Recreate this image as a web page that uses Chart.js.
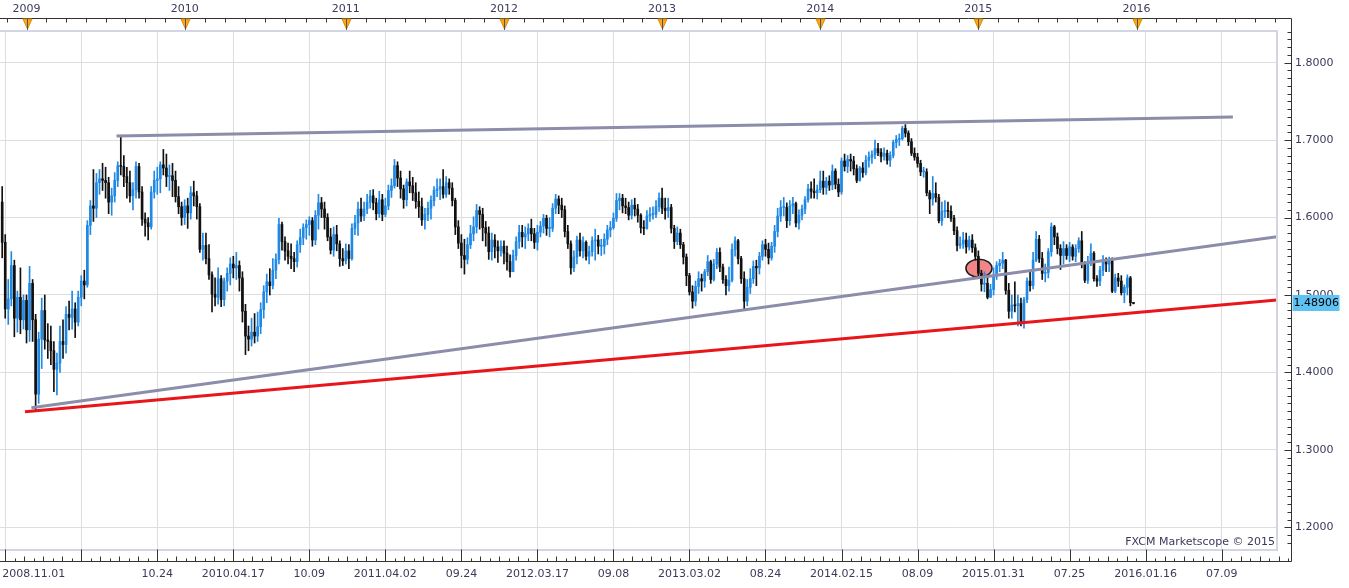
<!DOCTYPE html>
<html>
<head>
<meta charset="utf-8">
<script src="https://cdn.jsdelivr.net/npm/chart.js@4.4.0/dist/chart.umd.min.js"></script>
<style>
  html, body { margin: 0; padding: 0; background: #fff; }
  #wrap { width: 1349px; height: 588px; position: relative; }
</style>
</head>
<body>
<div id="wrap"><canvas id="chart"></canvas></div>
<script>
// GBP/USD weekly candles, week 0 = 2008.11.01
const firstOpen = 1.620;
const closes = [
  1.568,1.482,1.495,1.538,1.470,1.497,1.468,1.493,1.455,1.515,
  1.468,1.372,1.443,1.480,1.442,1.440,1.428,1.404,1.412,1.440,
  1.436,1.475,1.471,1.482,1.465,1.497,1.518,1.513,1.590,1.615,
  1.612,1.645,1.650,1.648,1.645,1.620,1.628,1.648,1.667,1.666,
  1.653,1.645,1.628,1.636,1.666,1.633,1.598,1.593,1.588,1.633,
  1.648,1.650,1.668,1.664,1.653,1.654,1.648,1.627,1.614,1.600,
  1.615,1.606,1.632,1.628,1.614,1.559,1.564,1.547,1.526,1.501,
  1.497,1.521,1.494,1.518,1.528,1.540,1.535,1.538,1.522,1.479,
  1.447,1.443,1.452,1.447,1.459,1.481,1.504,1.517,1.512,1.532,
  1.546,1.591,1.569,1.557,1.550,1.547,1.543,1.565,1.574,1.587,
  1.591,1.596,1.571,1.603,1.619,1.611,1.600,1.575,1.558,1.578,
  1.566,1.547,1.544,1.557,1.547,1.586,1.593,1.611,1.602,1.611,
  1.620,1.628,1.619,1.605,1.623,1.604,1.615,1.635,1.641,1.667,
  1.651,1.637,1.623,1.646,1.641,1.632,1.621,1.614,1.597,1.604,
  1.612,1.622,1.635,1.637,1.640,1.630,1.645,1.638,1.622,1.588,
  1.567,1.551,1.546,1.565,1.579,1.588,1.609,1.604,1.587,1.580,
  1.556,1.571,1.562,1.557,1.563,1.554,1.543,1.530,1.551,1.569,
  1.581,1.575,1.579,1.586,1.579,1.568,1.581,1.589,1.599,1.586,
  1.586,1.612,1.624,1.616,1.610,1.582,1.566,1.535,1.549,1.571,
  1.557,1.568,1.550,1.556,1.570,1.571,1.563,1.563,1.572,1.584,
  1.587,1.599,1.622,1.625,1.615,1.613,1.603,1.616,1.611,1.603,
  1.587,1.586,1.602,1.604,1.604,1.614,1.625,1.612,1.609,1.613,
  1.586,1.569,1.580,1.565,1.549,1.525,1.504,1.492,1.511,1.521,
  1.518,1.530,1.543,1.520,1.540,1.555,1.536,1.520,1.512,1.519,
  1.559,1.570,1.547,1.521,1.492,1.510,1.521,1.537,1.535,1.550,
  1.565,1.559,1.548,1.563,1.582,1.602,1.613,1.613,1.596,1.615,
  1.618,1.593,1.603,1.611,1.623,1.637,1.634,1.632,1.636,1.647,
  1.639,1.647,1.642,1.660,1.643,1.633,1.673,1.666,1.675,1.673,
  1.663,1.648,1.664,1.658,1.674,1.678,1.681,1.689,1.684,1.679,
  1.683,1.674,1.680,1.697,1.701,1.702,1.715,1.709,1.698,1.683,
  1.678,1.670,1.659,1.659,1.632,1.624,1.631,1.626,1.596,1.608,
  1.609,1.608,1.599,1.583,1.564,1.566,1.571,1.562,1.571,1.561,
  1.550,1.528,1.514,1.515,1.497,1.507,1.524,1.538,1.541,1.545,
  1.506,1.479,1.487,1.486,1.489,1.463,1.494,1.518,1.512,1.545,
  1.572,1.547,1.528,1.529,1.556,1.588,1.575,1.560,1.551,1.560,
  1.551,1.562,1.550,1.560,1.570,1.540,1.519,1.543,1.554,1.521,
  1.518,1.532,1.546,1.540,1.544,1.505,1.522,1.518,1.503,1.510,
  1.522,1.490,1.48906
];
const highs = [
  1.640,1.578,1.520,1.556,1.545,1.505,1.535,1.500,1.500,1.537,
  1.520,1.475,1.452,1.496,1.500,1.463,1.460,1.440,1.425,1.460,
  1.468,1.485,1.492,1.505,1.490,1.505,1.525,1.532,1.596,1.622,
  1.662,1.657,1.662,1.670,1.665,1.652,1.638,1.658,1.672,1.705,
  1.680,1.665,1.660,1.645,1.672,1.670,1.640,1.606,1.600,1.640,
  1.660,1.665,1.672,1.688,1.682,1.668,1.670,1.660,1.640,1.620,
  1.623,1.625,1.640,1.647,1.634,1.618,1.580,1.580,1.565,1.530,
  1.522,1.535,1.525,1.522,1.535,1.548,1.550,1.555,1.544,1.530,
  1.488,1.460,1.470,1.476,1.478,1.490,1.512,1.527,1.534,1.547,
  1.553,1.599,1.594,1.575,1.567,1.566,1.555,1.570,1.585,1.592,
  1.597,1.601,1.600,1.609,1.630,1.626,1.620,1.605,1.586,1.588,
  1.590,1.570,1.560,1.566,1.565,1.592,1.603,1.620,1.625,1.620,
  1.630,1.635,1.636,1.625,1.634,1.630,1.625,1.642,1.650,1.675,
  1.672,1.660,1.642,1.650,1.660,1.652,1.645,1.633,1.625,1.612,
  1.620,1.628,1.640,1.650,1.650,1.662,1.653,1.650,1.645,1.625,
  1.596,1.578,1.572,1.574,1.590,1.601,1.617,1.614,1.612,1.595,
  1.588,1.580,1.578,1.570,1.570,1.570,1.563,1.552,1.558,1.575,
  1.590,1.590,1.588,1.592,1.598,1.586,1.590,1.595,1.604,1.603,
  1.600,1.618,1.630,1.628,1.625,1.615,1.590,1.570,1.557,1.576,
  1.580,1.575,1.570,1.563,1.575,1.585,1.577,1.572,1.579,1.590,
  1.595,1.606,1.631,1.631,1.630,1.625,1.620,1.623,1.625,1.617,
  1.605,1.596,1.609,1.613,1.614,1.622,1.632,1.638,1.625,1.625,
  1.617,1.590,1.588,1.585,1.568,1.553,1.528,1.512,1.518,1.530,
  1.527,1.533,1.551,1.545,1.546,1.560,1.561,1.540,1.525,1.536,
  1.566,1.575,1.572,1.550,1.530,1.520,1.534,1.544,1.545,1.555,
  1.570,1.572,1.567,1.568,1.590,1.612,1.622,1.626,1.619,1.622,
  1.626,1.620,1.610,1.616,1.627,1.643,1.646,1.650,1.642,1.660,
  1.660,1.652,1.654,1.668,1.663,1.650,1.677,1.682,1.680,1.682,
  1.679,1.668,1.666,1.671,1.680,1.685,1.686,1.700,1.696,1.689,
  1.690,1.687,1.685,1.700,1.706,1.708,1.718,1.720,1.712,1.702,
  1.690,1.683,1.674,1.665,1.663,1.635,1.653,1.645,1.630,1.620,
  1.622,1.620,1.615,1.603,1.588,1.575,1.581,1.580,1.576,1.578,
  1.566,1.557,1.532,1.530,1.523,1.514,1.535,1.543,1.546,1.555,
  1.546,1.515,1.500,1.517,1.500,1.496,1.497,1.522,1.530,1.555,
  1.582,1.577,1.555,1.540,1.560,1.593,1.590,1.580,1.565,1.569,
  1.565,1.568,1.565,1.565,1.574,1.582,1.543,1.550,1.566,1.556,
  1.525,1.537,1.551,1.548,1.549,1.548,1.527,1.528,1.525,1.513,
  1.526,1.524,1.4905
];
const lows = [
  1.548,1.470,1.462,1.486,1.446,1.452,1.450,1.456,1.438,1.440,
  1.440,1.351,1.360,1.405,1.430,1.418,1.410,1.375,1.371,1.400,
  1.418,1.425,1.455,1.456,1.445,1.460,1.486,1.495,1.510,1.578,
  1.595,1.600,1.630,1.635,1.625,1.605,1.603,1.620,1.640,1.655,
  1.640,1.625,1.620,1.610,1.625,1.625,1.590,1.576,1.571,1.585,
  1.625,1.630,1.632,1.655,1.640,1.635,1.627,1.620,1.605,1.590,
  1.591,1.586,1.598,1.615,1.598,1.555,1.545,1.540,1.520,1.478,
  1.486,1.488,1.485,1.486,1.505,1.513,1.522,1.520,1.505,1.465,
  1.423,1.428,1.434,1.438,1.440,1.450,1.470,1.490,1.500,1.508,
  1.521,1.540,1.558,1.545,1.540,1.534,1.530,1.536,1.555,1.565,
  1.572,1.577,1.563,1.565,1.585,1.600,1.585,1.570,1.553,1.550,
  1.557,1.537,1.538,1.540,1.534,1.545,1.578,1.577,1.595,1.596,
  1.605,1.612,1.610,1.597,1.600,1.596,1.601,1.610,1.626,1.638,
  1.640,1.625,1.612,1.615,1.632,1.622,1.612,1.600,1.590,1.585,
  1.596,1.598,1.615,1.627,1.623,1.625,1.626,1.630,1.615,1.578,
  1.560,1.535,1.527,1.540,1.560,1.570,1.580,1.585,1.570,1.563,
  1.546,1.545,1.548,1.542,1.550,1.540,1.532,1.523,1.530,1.545,
  1.560,1.562,1.560,1.570,1.570,1.560,1.558,1.575,1.580,1.577,
  1.575,1.582,1.605,1.605,1.600,1.575,1.560,1.527,1.530,1.540,
  1.550,1.548,1.545,1.540,1.550,1.545,1.553,1.551,1.553,1.565,
  1.575,1.585,1.595,1.610,1.606,1.605,1.597,1.598,1.602,1.594,
  1.580,1.578,1.585,1.595,1.598,1.600,1.608,1.605,1.598,1.600,
  1.580,1.560,1.565,1.560,1.540,1.512,1.500,1.483,1.486,1.502,
  1.505,1.510,1.525,1.515,1.518,1.534,1.530,1.515,1.500,1.505,
  1.517,1.550,1.540,1.515,1.481,1.486,1.502,1.515,1.512,1.527,
  1.545,1.550,1.540,1.545,1.555,1.575,1.595,1.602,1.587,1.590,
  1.605,1.588,1.585,1.597,1.605,1.620,1.625,1.625,1.624,1.632,
  1.630,1.630,1.635,1.636,1.637,1.627,1.630,1.660,1.658,1.660,
  1.655,1.645,1.647,1.652,1.655,1.665,1.670,1.676,1.680,1.672,
  1.674,1.669,1.666,1.677,1.690,1.693,1.700,1.704,1.693,1.680,
  1.674,1.665,1.654,1.652,1.628,1.605,1.616,1.620,1.593,1.590,
  1.600,1.600,1.595,1.578,1.557,1.560,1.560,1.554,1.558,1.555,
  1.545,1.525,1.505,1.504,1.495,1.497,1.500,1.520,1.530,1.534,
  1.501,1.470,1.470,1.478,1.460,1.460,1.457,1.490,1.505,1.508,
  1.543,1.542,1.520,1.517,1.522,1.550,1.565,1.553,1.533,1.540,
  1.546,1.543,1.545,1.543,1.555,1.535,1.516,1.515,1.538,1.518,
  1.511,1.512,1.525,1.530,1.530,1.503,1.503,1.511,1.500,1.490,
  1.500,1.486,1.4885
];

// axis ticks (week index) and their labels
const dateTickWeeks = [0, 1, 26, 51, 76, 101, 126, 151, 176, 201, 226, 251, 276, 301, 326, 351, 376, 401];
const dateTickLabels = ['2008.11.01', '', '', '10.24', '2010.04.17', '10.09', '2011.04.02', '09.24',
  '2012.03.17', '09.08', '2013.03.02', '08.24', '2014.02.15', '08.09', '2015.01.31', '07.25', '2016.01.16', '07.09'];
const yearWeeks = [8, 60, 113, 165, 217, 269, 321, 373];
const yearLabels = ['2009', '2010', '2011', '2012', '2013', '2014', '2015', '2016'];
const priceTicks = [1.2, 1.3, 1.4, 1.5, 1.6, 1.7, 1.8];

// drawn trend lines [week, price]
const resistanceLine = [[37.6, 1.7053], [404.7, 1.7299]];
const supportLine = [[9.6, 1.3544], [419.2, 1.5753]];
const redLine = [[7.5, 1.3493], [419.2, 1.4935]];
const markedPoint = [321.2, 1.5345];

const xMin = -0.72, xMax = 419.2;
const yMin = 1.1707, yMax = 1.8409;

const UP = '#2089e6';
const DOWN = '#111111';
const GRID = '#dedede';
const LABEL = '#3a3a5a';
const FONT = "'DejaVu Sans', Verdana, sans-serif";

const opens = closes.map((c, i) => i === 0 ? firstOpen : closes[i - 1]);
const candleColor = (ctx) => closes[ctx.dataIndex] >= opens[ctx.dataIndex] ? UP : DOWN;
const toPoints = (arr) => arr.map(p => ({ x: p[0], y: p[1] }));
const noPad = (s) => { s.paddingLeft = 0; s.paddingRight = 0; s.paddingTop = 0; s.paddingBottom = 0; };

const decorations = {
  id: 'decorations',
  beforeDatasetsDraw(chart) {
    const { ctx, scales: { x, y } } = chart;
    const cx = x.getPixelForValue(markedPoint[0]);
    const cy = y.getPixelForValue(markedPoint[1]);
    ctx.save();
    ctx.beginPath();
    ctx.ellipse(cx, cy, 13, 9, 0, 0, Math.PI * 2);
    ctx.fillStyle = '#f08686';
    ctx.fill();
    ctx.lineWidth = 1.6;
    ctx.strokeStyle = '#1a1a1a';
    ctx.stroke();
    ctx.restore();
  },
  afterDraw(chart) {
    const { ctx, chartArea: a, scales: { x, y } } = chart;
    const axisRight = a.right + 14.5;
    const axisTop = a.top - 12.5;
    const axisBottom = a.bottom + 11.5;
    ctx.save();

    // plot frame
    ctx.strokeStyle = '#d2d6e4';
    ctx.lineWidth = 2;
    ctx.beginPath();
    ctx.moveTo(a.left, a.top); ctx.lineTo(a.right, a.top); ctx.lineTo(a.right, a.bottom); ctx.lineTo(a.left, a.bottom);
    ctx.stroke();

    // axis lines
    ctx.strokeStyle = '#333';
    ctx.lineWidth = 1;
    ctx.beginPath();
    ctx.moveTo(0, axisTop); ctx.lineTo(axisRight, axisTop);
    ctx.moveTo(axisRight, axisTop); ctx.lineTo(axisRight, axisBottom);
    ctx.moveTo(0, axisBottom); ctx.lineTo(axisRight, axisBottom);

    // price ticks, every 0.01
    for (let p = Math.ceil(yMin * 100); p <= Math.floor(yMax * 100); p++) {
      const yy = Math.round(y.getPixelForValue(p / 100)) + 0.5;
      const len = p % 10 === 0 ? 7 : 4;
      ctx.moveTo(axisRight - len, yy); ctx.lineTo(axisRight, yy);
    }

    // date ticks
    for (let j = 0; ; j++) {
      const w = 1 + j * 25 / 8;
      const xx = Math.round(x.getPixelForValue(w)) + 0.5;
      if (xx > axisRight) break;
      const len = j % 8 === 0 ? 12 : (j % 2 === 0 ? 5 : 3);
      ctx.moveTo(xx, axisBottom); ctx.lineTo(xx, axisBottom - len);
    }

    // year axis ticks, 8 per year
    const yrs = [yearWeeks[0] - 52].concat(yearWeeks, [yearWeeks[yearWeeks.length - 1] + 52]);
    for (let k = 0; k < yrs.length - 1; k++) {
      for (let j = 0; j < 8; j++) {
        const w = yrs[k] + (yrs[k + 1] - yrs[k]) * j / 8;
        const xx = Math.round(x.getPixelForValue(w)) + 0.5;
        if (xx < 0 || xx > axisRight) continue;
        ctx.moveTo(xx, axisTop); ctx.lineTo(xx, axisTop + 4);
      }
    }
    ctx.stroke();

    // year markers
    yearWeeks.forEach(w => {
      const xx = Math.round(x.getPixelForValue(w)) + 0.5;
      ctx.beginPath();
      ctx.moveTo(xx - 4.5, axisTop + 0.5);
      ctx.lineTo(xx + 4.5, axisTop + 0.5);
      ctx.lineTo(xx, axisTop + 10.5);
      ctx.closePath();
      ctx.fillStyle = '#f7a81b';
      ctx.fill();
      ctx.strokeStyle = '#e08c00';
      ctx.stroke();
      ctx.beginPath();
      ctx.strokeStyle = '#555';
      ctx.moveTo(xx, axisTop); ctx.lineTo(xx, a.top - 1);
      ctx.stroke();
    });

    // watermark
    ctx.font = '11px ' + FONT;
    ctx.fillStyle = LABEL;
    ctx.textAlign = 'right';
    ctx.textBaseline = 'middle';
    ctx.fillText('FXCM Marketscope \u00a9 2015', a.right - 2, a.bottom - 8);

    // last price box
    const last = closes[closes.length - 1];
    const py = Math.round(y.getPixelForValue(last));
    ctx.fillStyle = '#5ec2f2';
    ctx.fillRect(axisRight + 1, py - 8, 47, 16);
    ctx.fillStyle = '#000';
    ctx.textAlign = 'left';
    ctx.fillText(last.toFixed(5), axisRight + 2, py + 0.5);
    ctx.restore();
  }
};

new Chart(document.getElementById('chart'), {
  type: 'bar',
  data: {
    datasets: [
      { type: 'line', data: toPoints(redLine), borderColor: '#e8161a', borderWidth: 3, pointRadius: 0 },
      { type: 'line', data: toPoints(supportLine), borderColor: '#8c8cab', borderWidth: 3, pointRadius: 0 },
      { type: 'line', data: toPoints(resistanceLine), borderColor: '#8c8cab', borderWidth: 3, pointRadius: 0 },
      {
        data: closes.map((c, i) => ({ x: i, y: [opens[i], c] })),
        backgroundColor: candleColor, barThickness: 2, minBarLength: 1, grouped: false, borderWidth: 0
      },
      {
        data: closes.map((c, i) => ({ x: i, y: [lows[i], highs[i]] })),
        backgroundColor: candleColor, barThickness: 1, grouped: false, borderWidth: 0
      }
    ]
  },
  options: {
    responsive: true,
    maintainAspectRatio: false,
    animation: false,
    layout: { padding: 0 },
    plugins: { legend: { display: false }, tooltip: { enabled: false } },
    scales: {
      x: {
        type: 'linear', position: 'bottom', min: xMin, max: xMax, offset: false,
        afterBuildTicks: (s) => { s.ticks = dateTickWeeks.concat([xMax]).map(v => ({ value: v })); },
        afterFit: (s) => { s.height = 38; noPad(s); },
        ticks: {
          autoSkip: false, maxRotation: 0, minRotation: 0, align: 'inner', padding: 18,
          color: LABEL, font: { family: FONT, size: 11 },
          callback: (v, i) => i < dateTickLabels.length ? dateTickLabels[i] : ''
        },
        grid: {
          offset: false, drawTicks: false,
          color: (c) => (c.tick && (c.tick.value === 0 || c.tick.value === xMax)) ? 'rgba(0,0,0,0)' : GRID
        },
        border: { display: false }
      },
      x2: {
        type: 'linear', position: 'top', min: xMin, max: xMax, offset: false,
        afterBuildTicks: (s) => { s.ticks = yearWeeks.map(v => ({ value: v })); },
        afterFit: (s) => { s.height = 31; noPad(s); },
        ticks: {
          autoSkip: false, maxRotation: 0, minRotation: 0, padding: 15,
          color: LABEL, font: { family: FONT, size: 11 },
          callback: (v, i) => yearLabels[i]
        },
        grid: { drawOnChartArea: false, drawTicks: false },
        border: { display: false }
      },
      y: {
        position: 'right', min: yMin, max: yMax,
        afterBuildTicks: (s) => { s.ticks = priceTicks.map(v => ({ value: v })); },
        afterFit: (s) => { s.width = 72; noPad(s); },
        ticks: {
          padding: 18, color: LABEL, font: { family: FONT, size: 11 },
          callback: (v) => v.toFixed(4)
        },
        grid: { color: GRID, drawTicks: false },
        border: { display: false }
      }
    }
  },
  plugins: [decorations]
});
</script>
</body>
</html>
